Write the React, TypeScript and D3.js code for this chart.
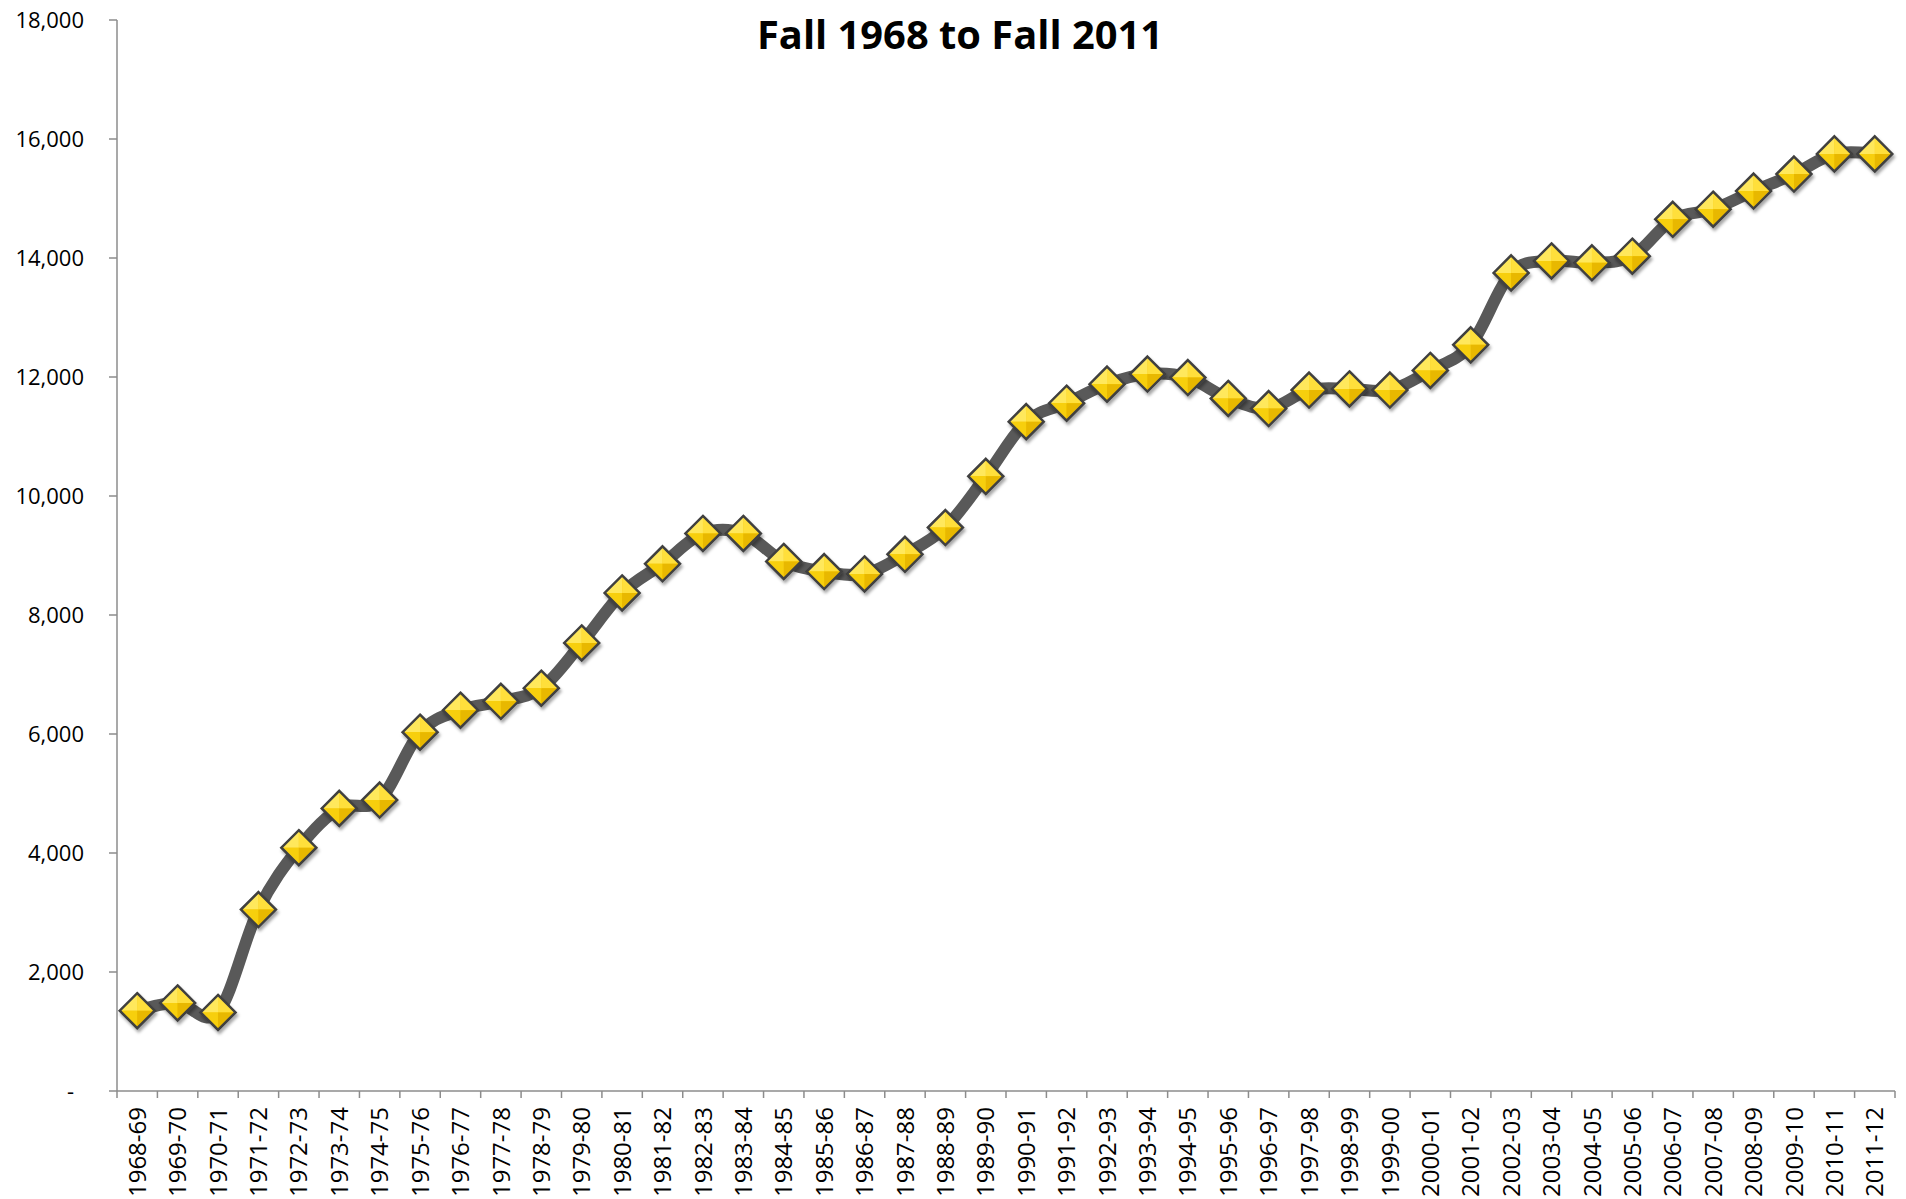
import React from "react";
import * as d3 from "d3";

const categories: string[] = [
  "1968-69","1969-70","1970-71","1971-72","1972-73","1973-74","1974-75","1975-76",
  "1976-77","1977-78","1978-79","1979-80","1980-81","1981-82","1982-83","1983-84",
  "1984-85","1985-86","1986-87","1987-88","1988-89","1989-90","1990-91","1991-92",
  "1992-93","1993-94","1994-95","1995-96","1996-97","1997-98","1998-99","1999-00",
  "2000-01","2001-02","2002-03","2003-04","2004-05","2005-06","2006-07","2007-08",
  "2008-09","2009-10","2010-11","2011-12",
];

const enrollment: number[] = [
  1350, 1480, 1320, 3050, 4090, 4750, 4890, 6030,
  6400, 6550, 6770, 7530, 8370, 8860, 9370, 9370,
  8900, 8730, 8690, 9020, 9470, 10330, 11250, 11560,
  11880, 12050, 11990, 11640, 11470, 11780, 11800, 11780,
  12110, 12540, 13750, 13950, 13920, 14030, 14650, 14820,
  15125, 15410, 15750, 15750,
];

const yTicks: number[] = [0, 2000, 4000, 6000, 8000, 10000, 12000, 14000, 16000, 18000];

const titleText = "Fall 1968 to Fall 2011";

const W = 1906;
const H = 1199;

export default function App() {
  const x = d3.scaleBand<string>().domain(categories).range([117, 1895]).paddingInner(0).paddingOuter(0);
  const y = d3.scaleLinear().domain([0, 18000]).range([1091, 20]);

  const pts: [number, number][] = categories.map((c, i) => [
    (x(c) as number) + x.bandwidth() / 2,
    y(enrollment[i]),
  ]);

  const line = d3.line<[number, number]>().curve(d3.curveCardinal.tension(0))(pts) || "";

  const axisColor = "#8c8c8c";
  const fmt = d3.format(",");
  const boundaries = categories.map((c) => x(c) as number).concat([x.range()[1]]);
  const r = 17.5;

  return (
    <svg
      width={W}
      height={H}
      viewBox={`0 0 ${W} ${H}`}
      style={{ position: "absolute", left: 0, top: 0, background: "#fff" }}
      fontFamily="'Open Sans', 'Noto Sans', sans-serif"
    >
      <defs>
        <filter id="shadow" x="-50%" y="-50%" width="200%" height="200%">
          <feDropShadow dx="1.5" dy="3" stdDeviation="1.8" floodColor="#000" floodOpacity="0.35" />
        </filter>
      </defs>

      <text
        x={960}
        y={49}
        textAnchor="middle"
        fontSize={39}
        fontWeight={700}
        fill="#000"
        textLength={406}
        lengthAdjust="spacingAndGlyphs"
      >
        {titleText}
      </text>

      {/* Y axis */}
      <line x1={117} x2={117} y1={y(18000)} y2={y(0)} stroke={axisColor} strokeWidth={1.5} />
      {yTicks.map((t) => (
        <g key={t}>
          <line x1={109} x2={117} y1={y(t)} y2={y(t)} stroke={axisColor} strokeWidth={1.5} />
          <text
            x={t === 0 ? 74 : 84}
            y={y(t)}
            dy="0.35em"
            textAnchor="end"
            fontSize={22}
            fill="#000"
          >
            {t === 0 ? "-" : fmt(t)}
          </text>
        </g>
      ))}

      {/* X axis */}
      <line x1={117} x2={1895} y1={y(0)} y2={y(0)} stroke={axisColor} strokeWidth={1.5} />
      {boundaries.map((b, i) => (
        <line key={i} x1={b} x2={b} y1={y(0)} y2={y(0) + 7} stroke={axisColor} strokeWidth={1.5} />
      ))}
      {categories.map((c) => {
        const cx = (x(c) as number) + x.bandwidth() / 2;
        return (
          <text
            key={c}
            transform={`translate(${cx},${1107}) rotate(-90)`}
            textAnchor="end"
            dy="0.36em"
            fontSize={24}
            fill="#000"
          >
            {c}
          </text>
        );
      })}

      {/* Line */}
      <path d={line} fill="none" stroke="#595959" strokeWidth={12} strokeLinejoin="round" strokeLinecap="round" />

      {/* Markers */}
      {pts.map(([px, py], i) => (
        <g key={i} transform={`translate(${px},${py})`} filter="url(#shadow)">
          <path d={`M0,${-r}L${r},0L0,${r}L${-r},0Z`} fill="#f5c400" />
          <path d={`M0,${-r}L${r},0L0,0Z`} fill="#ffdf3a" />
          <path d={`M0,${-r}L${-r},0L0,0Z`} fill="#ffe85c" />
          <path d={`M${-r},0L0,${r}L0,0Z`} fill="#f7cf10" />
          <path d={`M${r},0L0,${r}L0,0Z`} fill="#e8b800" />
          <path d={`M0,${-r}L${r},0L0,${r}L${-r},0Z`} fill="none" stroke="#3f3f3f" strokeWidth={2.5} strokeLinejoin="miter" />
        </g>
      ))}
    </svg>
  );
}
